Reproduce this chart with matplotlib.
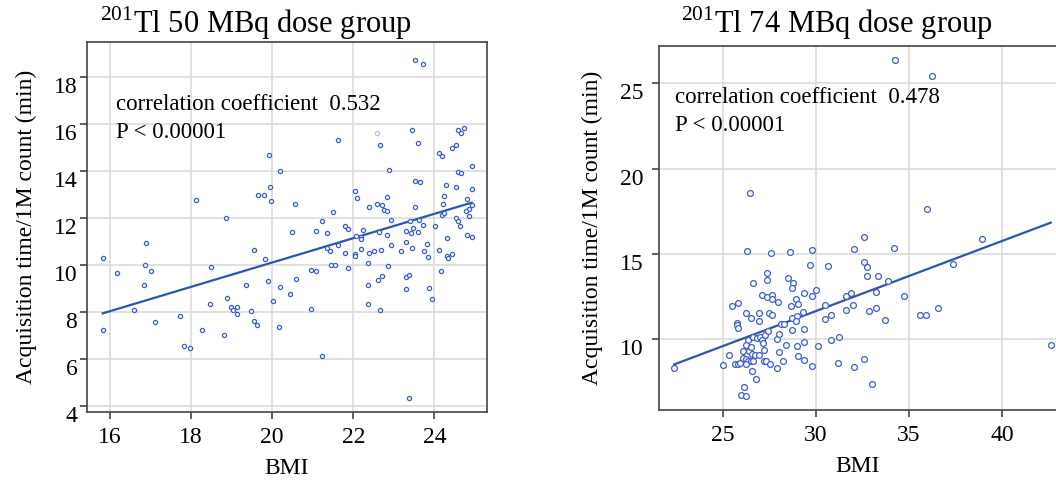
import matplotlib
matplotlib.use("Agg")
import matplotlib.pyplot as plt

plt.rcParams['font.family'] = ['Liberation Serif', 'DejaVu Serif']
plt.rcParams['mathtext.fontset'] = 'custom'
plt.rcParams['mathtext.rm'] = 'Liberation Serif'

# ---------------- data: 201Tl 50 MBq group ----------------
bmi_50 = [19.93, 20.2, 19.95, 19.65, 19.8, 19.96, 18.12, 20.56, 18.87,
          23.53, 23.71, 23.46, 21.62, 22.65, 23.59, 24.58, 24.66, 24.73,
          24.53, 24.44, 24.12, 24.18, 22.89, 24.92, 24.58, 24.66, 23.53,
          23.64, 24.28, 24.53, 24.94, 22.05, 22.1, 22.84, 24.24, 24.8,
          22.4, 22.58, 22.7, 22.77, 22.83, 23.53, 24.22, 24.92, 24.85,
          24.77, 21.5, 24.18, 24.24, 24.85,
          15.82, 16.17, 16.88, 16.86, 17.02, 16.84, 16.59, 15.82, 17.12,
          17.73, 17.83, 17.96, 18.27, 18.8, 18.47, 18.48, 18.89, 18.98,
          19.03, 19.14, 19.12, 19.35, 19.47, 19.56, 19.63, 19.55, 19.81,
          19.9, 20.01, 20.17, 20.2, 20.45, 20.58, 20.5,
          21.22, 22.92, 23.63, 23.4, 24.53, 24.58, 24.63, 21.07, 21.36,
          21.8, 21.87, 22.24, 22.2, 22.2, 22.07, 22.64, 22.84, 23.31,
          23.43, 23.48, 23.59, 23.72, 24.01, 24.8, 24.92, 24.31, 21.35,
          21.42, 21.63, 21.8, 22.05, 22.04, 22.19, 22.4, 22.5, 22.68,
          22.93, 23.19, 23.31, 23.44, 23.74, 23.81, 23.84, 24.12, 24.31,
          24.34, 24.44, 20.96, 21.07, 21.45, 21.55, 21.87, 22.37, 22.86,
          22.6, 22.71, 22.37, 23.31, 23.38, 23.31, 23.88, 24.16, 23.95,
          20.96, 22.37, 22.66, 21.22, 23.37]
time_50 = [14.68, 14.0, 13.33, 12.99, 12.99, 12.74, 12.77, 12.6, 12.0,
           18.74, 18.57, 15.73, 15.3, 15.12, 15.19, 15.74, 15.6, 15.83,
           15.09, 14.98, 14.75, 14.65, 14.03, 14.21, 13.96, 13.93, 13.56,
           13.52, 13.4, 13.31, 13.23, 13.15, 12.86, 12.9, 12.92, 12.82,
           12.48, 12.58, 12.55, 12.35, 12.28, 12.47, 12.6, 12.56, 12.4,
           12.3, 12.24, 12.13, 12.21, 12.1,
           10.31, 9.67, 10.94, 10.0, 9.74, 9.16, 8.1, 7.25, 7.56,
           7.84, 6.55, 6.47, 7.22, 7.02, 8.33, 9.93, 8.61, 8.23,
           8.1, 8.23, 7.91, 9.16, 8.04, 7.63, 7.43, 10.63, 10.26,
           9.33, 8.48, 7.35, 9.08, 8.77, 9.39, 11.42,
           11.86, 11.91, 11.93, 11.87, 11.99, 11.89, 11.66, 11.46, 11.35,
           11.65, 11.55, 11.48, 11.18, 11.09, 11.23, 11.4, 11.26, 11.45,
           11.35, 11.57, 11.4, 11.72, 11.67, 11.26, 11.19, 11.15, 10.74,
           10.6, 10.85, 10.52, 10.47, 10.4, 10.68, 10.52, 10.6, 10.64,
           10.85, 10.6, 10.97, 10.74, 10.6, 10.88, 10.33, 10.63, 10.4,
           10.3, 10.47, 9.8, 9.76, 10.0, 10.0, 9.86, 10.09, 9.96,
           9.36, 9.52, 9.14, 9.49, 9.57, 8.98, 9.01, 9.74, 8.55,
           8.13, 8.33, 8.07, 6.14, 4.34]
faded_bmi_50 = [22.59]
faded_time_50 = [15.62]
fit_bmi_50 = [15.82, 24.92]
fit_time_50 = [7.94, 12.65]

# ---------------- data: 201Tl 74 MBq group ----------------
bmi_74 = [26.43, 34.25, 36.22, 35.95, 32.6, 38.94,
          22.38, 24.98, 25.31, 25.66, 25.81, 25.93, 25.48, 25.81, 25.77,
          25.77, 25.79, 26.29, 26.61, 26.25, 26.52, 26.92, 26.92, 26.33,
          26.09, 26.38, 26.24, 26.49, 26.63, 26.81, 26.99, 27.08, 27.26,
          27.17, 27.42, 26.56, 26.74, 26.94, 26.09, 26.22, 26.36, 26.49,
          26.63, 26.22, 26.56, 26.76, 26.15, 25.95, 26.22, 27.2, 27.22,
          27.3, 27.51, 27.35, 27.38, 27.11, 27.35, 27.63, 27.65, 27.94,
          27.46, 27.65, 27.6, 27.9, 27.99, 28.03, 28.1, 28.3, 28.23,
          27.92, 28.49, 28.58, 28.76, 28.69, 28.92, 28.67, 29.05, 28.4,
          28.69, 28.96, 28.92, 29.28, 28.69, 28.99, 29.05, 29.35, 29.35,
          29.35, 29.37, 29.68, 29.77, 29.77, 30.02, 29.77, 30.1, 30.47,
          30.5, 30.82, 30.66, 30.82, 31.25, 31.18, 31.61, 31.88, 31.97,
          31.61, 32.03, 32.03,
          34.18, 32.6, 32.73, 32.73, 33.35, 33.87, 33.24, 34.73, 32.83,
          33.24, 33.69, 35.59, 35.91, 36.54, 37.37, 32.6, 33.03, 42.62]
time_74 = [18.58, 26.35, 25.45, 17.65, 15.99, 15.86,
           8.34, 8.5, 9.1, 8.56, 8.56, 8.6, 11.93, 12.12, 10.97,
           10.83, 10.7, 15.17, 13.3, 11.55, 11.26, 11.55, 11.09, 9.96,
           9.34, 9.34, 9.65, 9.57, 10.15, 10.06, 10.12, 9.96, 10.29,
           9.8, 10.48, 9.14, 9.07, 9.07, 8.89, 8.85, 8.73, 8.73,
           8.73, 8.54, 8.17, 7.7, 7.2, 6.77, 6.69, 9.38, 8.75,
           8.72, 8.56, 13.46, 13.87, 12.63, 12.51, 12.63, 12.35, 12.2,
           11.55, 11.42, 15.08, 10.0, 9.28, 10.31, 10.89, 10.89, 8.73,
           8.34, 13.62, 15.15, 13.3, 13.0, 12.39, 11.98, 12.06, 9.67,
           11.23, 11.36, 11.09, 11.59, 10.54, 9.61, 9.03, 10.64, 9.88,
           8.77, 12.72, 14.34, 15.23, 12.53, 12.88, 8.46, 9.61, 12.02,
           11.2, 11.42, 14.3, 9.96, 10.17, 8.63, 12.53, 12.74, 12.02,
           11.75, 15.27, 8.36,
           15.37, 14.51, 14.22, 13.74, 13.74, 13.42, 12.78, 12.53, 11.69,
           11.84, 11.13, 11.46, 11.46, 11.84, 14.44, 8.85, 7.39, 9.67]
fit_bmi_74 = [22.38, 42.62]
fit_time_74 = [8.54, 16.84]

titles = ["$^{201}$Tl 50 MBq dose group", "$^{201}$Tl 74 MBq dose group"]
annot_r = ["correlation coefficient  0.532", "correlation coefficient  0.478"]
annot_p = "P < 0.00001"
xticks_50 = [16, 18, 20, 22, 24]
yticks_50 = [4, 6, 8, 10, 12, 14, 16, 18]
xticks_74 = [25, 30, 35, 40]
yticks_74 = [10, 15, 20, 25]
xlabel = "BMI"
ylabel = "Acquisition time/1M count (min)"

PT_COLOR = "#3d5fc4"
LINE_COLOR = "#2b56b0"
GRID = "#dcdcdc"
SPINE = "#444444"

fig = plt.figure(figsize=(10.56, 4.86), dpi=100)
ax1 = fig.add_axes([87/1056, 1-412/486, 400/1056, 370/486])
ax2 = fig.add_axes([659/1056, 1-410/486, 397/1056, 364.3/486])


def style(ax, xt, yt, xlim, ylim, ypad):
    ax.set_xlim(*xlim)
    ax.set_ylim(*ylim)
    ax.set_xticks(xt)
    ax.set_yticks(yt)
    ax.grid(True, color=GRID, linewidth=1.2)
    ax.set_axisbelow(True)
    for s in ax.spines.values():
        s.set_color(SPINE)
        s.set_linewidth(1.2)
    ax.tick_params(direction='out', length=5, width=1.2, color=SPINE,
                   labelsize=17)
    ax.tick_params(axis='x', pad=6)
    ax.tick_params(axis='y', pad=ypad)
    for lab in ax.get_yticklabels():
        lab.set_verticalalignment('top')
    ax.set_xlabel(xlabel, fontsize=17, labelpad=7)
    ax.set_ylabel(ylabel, fontsize=17, labelpad=12)


# left panel
style(ax1, xticks_50, yticks_50, (15.43, 25.3), (3.74, 19.49), 2)
ax1.plot(fit_bmi_50, fit_time_50, color=LINE_COLOR, lw=1.6, zorder=2)
ax1.plot(bmi_50, time_50, ls='none', marker='o', ms=3.0, mfc='white',
         mec=PT_COLOR, mew=0.9, zorder=3)
ax1.plot(faded_bmi_50, faded_time_50, ls='none', marker='o', ms=3.0,
         mfc='white', mec='#b8c4e6', mew=0.9, zorder=3)

# right panel
style(ax2, xticks_74, yticks_74, (21.56, 42.9), (5.87, 27.2), 6)
ax2.spines['right'].set_visible(False)
ax2.plot(fit_bmi_74, fit_time_74, color=LINE_COLOR, lw=1.6, zorder=2)
ax2.plot(bmi_74, time_74, ls='none', marker='o', ms=4.2, mfc='white',
         mec=PT_COLOR, mew=0.9, zorder=3)

# annotations
fig.text(116/1056, 1-110/486, annot_r[0], fontsize=16.5, va='baseline')
fig.text(116/1056, 1-138/486, annot_p, fontsize=16.5, va='baseline')
fig.text(675/1056, 1-103/486, annot_r[1], fontsize=16.5, va='baseline')
fig.text(675/1056, 1-131/486, annot_p, fontsize=16.5, va='baseline')

# titles
fig.text(100/1056, 1-33/486, titles[0], fontsize=22, va='baseline')
fig.text(681/1056, 1-33/486, titles[1], fontsize=22, va='baseline')

fig.savefig("out.png", dpi=100)
